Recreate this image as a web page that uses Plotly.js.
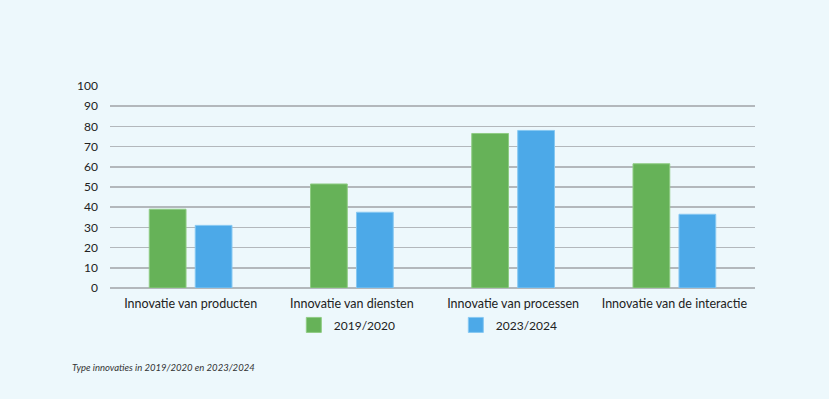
<!DOCTYPE html>
<html>
<head>
<meta charset="utf-8">
<script src="https://cdn.plot.ly/plotly-3.0.1.min.js"></script>
<style>html,body{margin:0;padding:0;background:#edf8fc;}#chart{width:829px;height:399px;}</style>
</head>
<body>
<div id="chart"></div>
<script>
var categories = ['Innovatie van producten', 'Innovatie van diensten', 'Innovatie van processen', 'Innovatie van de interactie'];
var values2019 = [39, 51.5, 76.5, 61.5];
var values2023 = [31, 37.5, 78, 36.5];
var seriesNames = ['2019/2020', '2023/2024'];
var yTicks = [0, 10, 20, 30, 40, 50, 60, 70, 80, 90, 100];
var caption = 'Type innovaties in 2019/2020 en 2023/2024';

var green = '#66b258', greenLine = '#8fcc84';
var blue = '#4ca9e8', blueLine = '#86c8f2';
var fam = 'Lato, Noto Sans, sans-serif';

var traces = [
  {type: 'bar', x: categories, y: values2019, name: seriesNames[0], showlegend: false,
   marker: {color: green, line: {color: greenLine, width: 1}}, hoverinfo: 'y'},
  {type: 'bar', x: categories, y: values2023, name: seriesNames[1], showlegend: false,
   marker: {color: blue, line: {color: blueLine, width: 1}}, hoverinfo: 'y'},
  {type: 'scatter', mode: 'markers', x: [null], y: [null], name: seriesNames[0],
   marker: {symbol: 'square', size: 15, color: green, line: {color: greenLine, width: 1}}},
  {type: 'scatter', mode: 'markers', x: [null], y: [null], name: seriesNames[1],
   marker: {symbol: 'square', size: 15, color: blue, line: {color: blueLine, width: 1}}}
];

var layout = {
  width: 829, height: 399,
  paper_bgcolor: '#edf8fc', plot_bgcolor: '#edf8fc',
  margin: {l: 110, r: 74, t: 86, b: 111},
  font: {family: fam, size: 12, color: '#222'},
  barmode: 'group', bargap: 0.43, bargroupgap: 0.2,
  showlegend: true,
  legend: {orientation: 'h', x: 0.285, xanchor: 'left', y: -0.111, yanchor: 'top',
           entrywidth: 117, entrywidthmode: 'pixels', bgcolor: 'rgba(0,0,0,0)',
           font: {size: 12, color: '#222', family: fam}},
  xaxis: {type: 'category', showgrid: false, zeroline: false, showline: false, ticks: '',
          ticklabelstandoff: 6, tickfont: {size: 12.5, color: '#222', family: fam}, fixedrange: true},
  yaxis: {range: [0, 100], tickvals: yTicks, ticktext: yTicks.map(String), showgrid: true,
          gridcolor: '#b3b8bc', gridwidth: 1.5, zeroline: true, zerolinecolor: '#b3b8bc', zerolinewidth: 1.5,
          showline: false, ticks: '', ticklabelstandoff: 11, tickfont: {size: 12, color: '#222', family: fam}, fixedrange: true},
  annotations: [{text: caption, xref: 'paper', yref: 'paper', x: (70 - 110) / 645, xanchor: 'left',
                 y: -0.395, yanchor: 'middle', showarrow: false,
                 font: {size: 9.5, color: '#333', family: fam, style: 'italic'}}]
};
Plotly.newPlot('chart', traces, layout, {displayModeBar: false, staticPlot: true});
</script>
</body>
</html>
